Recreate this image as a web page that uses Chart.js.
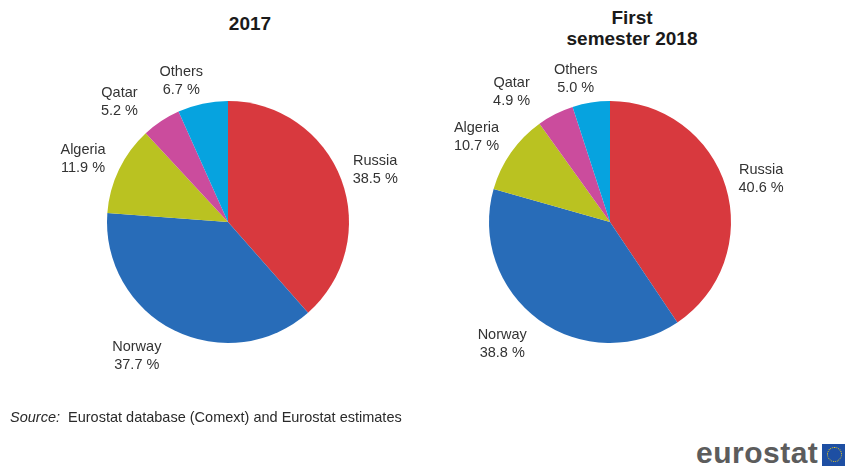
<!DOCTYPE html>
<html>
<head>
<meta charset="utf-8">
<script src="https://cdn.jsdelivr.net/npm/chart.js@4/dist/chart.umd.min.js"></script>
<style>
  html, body { margin: 0; padding: 0; background: #ffffff; }
  body { width: 845px; height: 468px; position: relative; overflow: hidden;
         font-family: "Liberation Sans", Arial, sans-serif; }
  canvas { position: absolute; }
  .title { position: absolute; font-weight: bold; font-size: 19px; color: #1a1a1a;
           text-align: center; line-height: 21px; width: 240px; }
  .source { position: absolute; left: 10px; top: 409px; font-size: 14.5px; color: #2a2a2a; }
  .logo { position: absolute; left: 696px; top: 436px; font-size: 30px; font-weight: bold;
          color: #5c5c5c; letter-spacing: 0.5px; }
  .flag { position: absolute; left: 822px; top: 444px; width: 26px; height: 22px; background: #1e4fa3; }
  .flag div { position: absolute; left: 5px; top: 3px; width: 13px; height: 13px;
              border: 1.5px dotted #f2d21b; border-radius: 50%; }
</style>
</head>
<body>
<div class="title" style="left:130px; top:13px;">2017</div>
<div class="title" style="left:512px; top:7px;">First<br>semester 2018</div>

<canvas id="pie2017" width="400" height="400" style="left:28px; top:22px;"></canvas>
<canvas id="pie2018" width="400" height="400" style="left:410px; top:22px;"></canvas>

<div class="source"><i>Source:</i>&nbsp; Eurostat database (Comext) and Eurostat estimates</div>
<div class="logo">eurostat</div>
<div class="flag"><div></div></div>

<script>
// Supplier countries, shares of imports (%)
const categories = ["Russia", "Norway", "Algeria", "Qatar", "Others"];
const shares2017 = [38.5, 37.7, 11.9, 5.2, 6.7];
const shares2018 = [40.6, 38.8, 10.7, 4.9, 5.0];
const sliceColors = ["#d8393e", "#286cb8", "#bac221", "#cb4c9d", "#06a3df"];

// Label placement per slice: angular nudge (degrees) and gap beyond the rim (px),
// so the small slices' labels spread out and do not crowd each other
const labelTurn2017 = [1.4, 7.8, -2.3, -8.6, -6.2];
const labelGap2017 = [35, 41, 37, 41, 28];
const labelTurn2018 = [1.2, 5.4, -2.5, -10.3, -4.5];
const labelGap2018 = [36, 42, 37.5, 42, 26];

// Writes "Country" and "xx.x %" outside each slice, around the slice's middle angle
const outsideLabels = {
  id: "outsideLabels",
  afterDatasetsDraw(chart, args, opts) {
    const ctx = chart.ctx;
    const meta = chart.getDatasetMeta(0);
    const values = chart.data.datasets[0].data;
    ctx.save();
    ctx.font = "14.5px 'Liberation Sans', Arial, sans-serif";
    ctx.fillStyle = "#333333";
    ctx.textAlign = "center";
    ctx.textBaseline = "middle";
    meta.data.forEach((arc, i) => {
      const p = arc.getProps(["x", "y", "startAngle", "endAngle", "outerRadius"], true);
      const mid = (p.startAngle + p.endAngle) / 2 + opts.turn[i] * Math.PI / 180;
      const d = p.outerRadius + opts.gap[i];
      const cx = p.x + Math.cos(mid) * d;
      const cy = p.y + Math.sin(mid) * d;
      ctx.fillText(chart.data.labels[i], cx, cy - 9);
      ctx.fillText(values[i].toFixed(1) + " %", cx, cy + 9);
    });
    ctx.restore();
  }
};

function makePie(id, values, turn, gap) {
  return new Chart(document.getElementById(id), {
    type: "pie",
    data: {
      labels: categories,
      datasets: [{ data: values, backgroundColor: sliceColors, borderWidth: 0 }]
    },
    options: {
      responsive: false,
      animation: false,
      layout: { padding: 79 },
      plugins: {
        legend: { display: false },
        tooltip: { enabled: false },
        outsideLabels: { turn: turn, gap: gap }
      }
    },
    plugins: [outsideLabels]
  });
}

makePie("pie2017", shares2017, labelTurn2017, labelGap2017);
makePie("pie2018", shares2018, labelTurn2018, labelGap2018);
</script>
</body>
</html>
